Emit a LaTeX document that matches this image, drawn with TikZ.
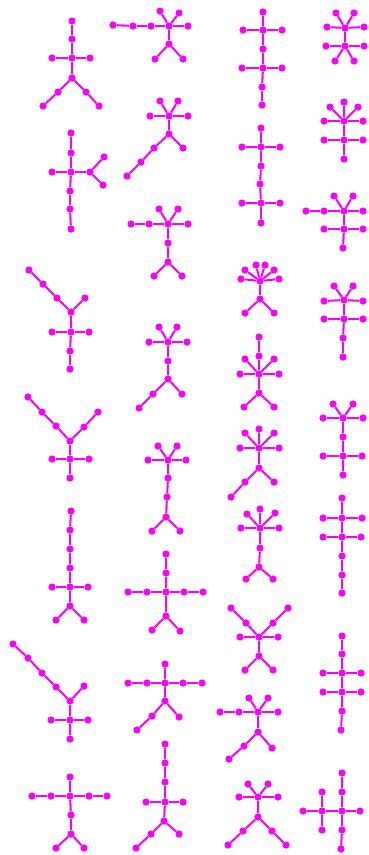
\documentclass[tikz,border=0pt]{standalone}
\definecolor{arbre}{RGB}{250,0,250}
\begin{document}
\begin{tikzpicture}[x=1pt,y=-1pt,
	sommet/.style={circle,fill=arbre,inner sep=0pt,minimum size=7.2pt},
	arete/.style={draw=arbre,line width=2pt}]
	\useasboundingbox (0,0) rectangle (369,855);
	
	% colonne 1
	\foreach \nom/\cx/\cy in {a1/72/21,a2/72/39,a3/72/58,a4/52/58,a5/90/58,a6/72/78,a7/58/92,a8/43/106,a9/86/92,a10/99/106}
		\node[sommet] (\nom) at (\cx,\cy) {};
	\foreach \u/\v in {a1/a2,a2/a3,a3/a4,a3/a5,a3/a6,a6/a7,a7/a8,a6/a9,a9/a10}
		\draw[arete] (\u)--(\v);
	
	\foreach \nom/\cx/\cy in {c1/71/133,c2/71/153,c3/71/172,c4/52/172,c5/90/172,c6/104/157,c7/103/185,c8/70/191,c9/70/209,c10/71/229}
		\node[sommet] (\nom) at (\cx,\cy) {};
	\foreach \u/\v in {c1/c2,c2/c3,c3/c4,c3/c5,c5/c6,c5/c7,c3/c8,c8/c9,c9/c10}
		\draw[arete] (\u)--(\v);
	
	\foreach \nom/\cx/\cy in {k1/29/270,k2/43/284,k3/57/298,k4/71/312,k5/85/298,k6/71/332,k7/52/332,k8/89/332,k9/70/351,k10/70/369}
		\node[sommet] (\nom) at (\cx,\cy) {};
	\foreach \u/\v in {k1/k2,k2/k3,k3/k4,k4/k5,k4/k6,k6/k7,k6/k8,k6/k9,k9/k10}
		\draw[arete] (\u)--(\v);
	
	\foreach \nom/\cx/\cy in {m1/28/397,m2/42/412,m3/56/426,m4/70/441,m5/84/427,m6/98/412,m7/70/459,m8/52/459,m9/89/459,m10/70/478}
		\node[sommet] (\nom) at (\cx,\cy) {};
	\foreach \u/\v in {m1/m2,m2/m3,m3/m4,m4/m5,m5/m6,m4/m7,m7/m8,m7/m9,m7/m10}
		\draw[arete] (\u)--(\v);
	
	\foreach \nom/\cx/\cy in {t1/71/511,t2/70/530,t3/70/549,t4/70/568,t5/70/587,t6/52/587,t7/88/587,t8/70/606,t9/56/620,t10/84/620}
		\node[sommet] (\nom) at (\cx,\cy) {};
	\foreach \u/\v in {t1/t2,t2/t3,t3/t4,t4/t5,t5/t6,t5/t7,t5/t8,t8/t9,t8/t10}
		\draw[arete] (\u)--(\v);
	
	\foreach \nom/\cx/\cy in {z1/13/644,z2/28/658,z3/42/673,z4/56/687,z5/70/701,z6/84/686,z7/70/720,z8/51/720,z9/88/720,z10/70/739}
		\node[sommet] (\nom) at (\cx,\cy) {};
	\foreach \u/\v in {z1/z2,z2/z3,z3/z4,z4/z5,z5/z6,z5/z7,z7/z8,z7/z9,z7/z10}
		\draw[arete] (\u)--(\v);
	
	\foreach \nom/\cx/\cy in {ac1/70/777,ac2/70/796,ac3/32/796,ac4/51/796,ac5/89/796,ac6/107/796,ac7/71/815,ac8/71/834,ac9/56/848,ac10/84/848}
		\node[sommet] (\nom) at (\cx,\cy) {};
	\foreach \u/\v in {ac1/ac2,ac3/ac4,ac4/ac2,ac2/ac5,ac5/ac6,ac2/ac7,ac7/ac8,ac8/ac9,ac8/ac10}
		\draw[arete] (\u)--(\v);
	
	% colonne 2
	\foreach \nom/\cx/\cy in {b1/113/25,b2/133/26,b3/151/26,b4/169/26,b5/188/26,b6/160/11,b7/179/13,b8/169/44,b9/155/59,b10/183/59}
		\node[sommet] (\nom) at (\cx,\cy) {};
	\foreach \u/\v in {b1/b2,b2/b3,b3/b4,b4/b5,b4/b6,b4/b7,b4/b8,b8/b9,b8/b10}
		\draw[arete] (\u)--(\v);
	
	\foreach \nom/\cx/\cy in {d1/160/101,d2/178/101,d3/150/116,d4/169/116,d5/188/116,d6/169/134,d7/183/148,d8/154/148,d9/141/162,d10/127/176}
		\node[sommet] (\nom) at (\cx,\cy) {};
	\foreach \u/\v in {d4/d1,d4/d2,d4/d3,d4/d5,d4/d6,d6/d7,d6/d8,d8/d9,d9/d10}
		\draw[arete] (\u)--(\v);
	
	\foreach \nom/\cx/\cy in {e1/159/209,e2/178/209,e3/131/224,e4/149/224,e5/168/224,e6/188/224,e7/168/243,e8/168/262,e9/154/276,e10/182/276}
		\node[sommet] (\nom) at (\cx,\cy) {};
	\foreach \u/\v in {e5/e1,e5/e2,e3/e4,e4/e5,e5/e6,e5/e7,e7/e8,e8/e9,e8/e10}
		\draw[arete] (\u)--(\v);
	
	\foreach \nom/\cx/\cy in {l1/159/327,l2/177/327,l3/149/342,l4/168/342,l5/187/342,l6/168/361,l7/168/379,l8/182/394,l9/153/394,l10/139/408}
		\node[sommet] (\nom) at (\cx,\cy) {};
	\foreach \u/\v in {l4/l1,l4/l2,l4/l3,l4/l5,l4/l6,l6/l7,l7/l8,l7/l9,l9/l10}
		\draw[arete] (\u)--(\v);
	
	\foreach \nom/\cx/\cy in {n1/158/446,n2/177/446,n3/148/460,n4/168/460,n5/186/460,n6/168/478,n7/167/497,n8/166/517,n9/152/531,n10/180/531}
		\node[sommet] (\nom) at (\cx,\cy) {};
	\foreach \u/\v in {n4/n1,n4/n2,n4/n3,n4/n5,n4/n6,n6/n7,n7/n8,n8/n9,n8/n10}
		\draw[arete] (\u)--(\v);
	
	\foreach \nom/\cx/\cy in {u1/166/554,u2/166/573,u3/166/592,u4/128/592,u5/147/592,u6/184/592,u7/203/592,u8/166/616,u9/152/630,u10/180/631}
		\node[sommet] (\nom) at (\cx,\cy) {};
	\foreach \u/\v in {u1/u2,u2/u3,u4/u5,u5/u3,u3/u6,u6/u7,u3/u8,u8/u9,u8/u10}
		\draw[arete] (\u)--(\v);
	
	\foreach \nom/\cx/\cy in {aa1/165/664,aa2/165/683,aa3/128/683,aa4/147/683,aa5/183/683,aa6/202/683,aa7/165/701,aa8/179/717,aa9/152/716,aa10/137/730}
		\node[sommet] (\nom) at (\cx,\cy) {};
	\foreach \u/\v in {aa1/aa2,aa3/aa4,aa4/aa2,aa2/aa5,aa5/aa6,aa2/aa7,aa7/aa8,aa7/aa9,aa9/aa10}
		\draw[arete] (\u)--(\v);
	
	\foreach \nom/\cx/\cy in {ad1/165/744,ad2/165/763,ad3/165/782,ad4/165/802,ad5/146/802,ad6/183/802,ad7/164/821,ad8/179/834,ad9/151/834,ad10/136/848}
		\node[sommet] (\nom) at (\cx,\cy) {};
	\foreach \u/\v in {ad1/ad2,ad2/ad3,ad3/ad4,ad4/ad5,ad4/ad6,ad4/ad7,ad7/ad8,ad7/ad9,ad9/ad10}
		\draw[arete] (\u)--(\v);
	
	% colonne 3
	\foreach \nom/\cx/\cy in {f1/263/12,f2/263/30,f3/243/30,f4/282/30,f5/263/49,f6/263/68,f7/242/68,f8/282/68,f9/262/87,f10/262/105}
		\node[sommet] (\nom) at (\cx,\cy) {};
	\foreach \u/\v in {f1/f2,f2/f3,f2/f4,f2/f5,f5/f6,f6/f7,f6/f8,f6/f9,f9/f10}
		\draw[arete] (\u)--(\v);
	
	\foreach \nom/\cx/\cy in {h1/261/128,h2/261/147,h3/242/147,h4/280/147,h5/261/166,h6/260/184,h7/261/203,h8/242/203,h9/280/203,h10/261/223}
		\node[sommet] (\nom) at (\cx,\cy) {};
	\foreach \u/\v in {h1/h2,h2/h3,h2/h4,h2/h5,h5/h6,h6/h7,h7/h8,h7/h9,h7/h10}
		\draw[arete] (\u)--(\v);
	
	\foreach \nom/\cx/\cy in {o1/260/281,o2/241/279,o3/245/270,o4/256/265,o5/265/265,o6/274/270,o7/279/279,o8/260/299,o9/245/313,o10/274/313}
		\node[sommet] (\nom) at (\cx,\cy) {};
	\foreach \u/\v in {o1/o2,o1/o3,o1/o4,o1/o5,o1/o6,o1/o7,o1/o8,o8/o9,o8/o10}
		\draw[arete] (\u)--(\v);
	
	\foreach \nom/\cx/\cy in {q1/259/337,q2/259/356,q3/259/374,q4/240/374,q5/279/374,q6/245/359,q7/274/359,q8/259/393,q9/244/407,q10/274/407}
		\node[sommet] (\nom) at (\cx,\cy) {};
	\foreach \u/\v in {q1/q2,q2/q3,q3/q4,q3/q5,q3/q6,q3/q7,q3/q8,q8/q9,q8/q10}
		\draw[arete] (\u)--(\v);
	
	\foreach \nom/\cx/\cy in {r1/259/429,r2/245/433,r3/274/433,r4/240/448,r5/259/448,r6/279/448,r7/259/468,r8/274/482,r9/245/482,r10/231/497}
		\node[sommet] (\nom) at (\cx,\cy) {};
	\foreach \u/\v in {r5/r1,r5/r2,r5/r3,r5/r4,r5/r6,r5/r7,r7/r8,r7/r9,r9/r10}
		\draw[arete] (\u)--(\v);
	
	\foreach \nom/\cx/\cy in {v1/247/514,v2/260/509,v3/275/513,v4/241/528,v5/260/528,v6/279/528,v7/260/548,v8/259/567,v9/246/579,v10/273/579}
		\node[sommet] (\nom) at (\cx,\cy) {};
	\foreach \u/\v in {v5/v1,v5/v2,v5/v3,v5/v4,v5/v6,v5/v7,v7/v8,v8/v9,v8/v10}
		\draw[arete] (\u)--(\v);
	
	\foreach \nom/\cx/\cy in {x1/231/608,x2/246/623,x3/288/608,x4/273/623,x5/259/637,x6/240/637,x7/278/637,x8/259/656,x9/245/670,x10/273/670}
		\node[sommet] (\nom) at (\cx,\cy) {};
	\foreach \u/\v in {x1/x2,x2/x5,x3/x4,x4/x5,x5/x6,x5/x7,x5/x8,x8/x9,x8/x10}
		\draw[arete] (\u)--(\v);
	
	\foreach \nom/\cx/\cy in {ab1/249/698,ab2/268/698,ab3/220/712,ab4/239/712,ab5/258/712,ab6/278/712,ab7/258/732,ab8/272/748,ab9/244/746,ab10/229/759}
		\node[sommet] (\nom) at (\cx,\cy) {};
	\foreach \u/\v in {ab5/ab1,ab5/ab2,ab3/ab4,ab4/ab5,ab5/ab6,ab5/ab7,ab7/ab8,ab7/ab9,ab9/ab10}
		\draw[arete] (\u)--(\v);
	
	\foreach \nom/\cx/\cy in {ae1/248/784,ae2/268/784,ae3/239/797,ae4/258/797,ae5/278/797,ae6/258/817,ae7/272/831,ae8/286/845,ae9/243/831,ae10/228/845}
		\node[sommet] (\nom) at (\cx,\cy) {};
	\foreach \u/\v in {ae4/ae1,ae4/ae2,ae4/ae3,ae4/ae5,ae4/ae6,ae6/ae7,ae7/ae8,ae6/ae9,ae9/ae10}
		\draw[arete] (\u)--(\v);
	
	% colonne 4
	\foreach \nom/\cx/\cy in {g1/336/13,g2/354/13,g3/327/27,g4/345/28,g5/364/27,g6/345/46,g7/326/46,g8/364/46,g9/335/61,g10/354/61}
		\node[sommet] (\nom) at (\cx,\cy) {};
	\foreach \u/\v in {g4/g1,g4/g2,g4/g3,g4/g5,g4/g6,g6/g7,g6/g8,g6/g9,g6/g10}
		\draw[arete] (\u)--(\v);
	
	\foreach \nom/\cx/\cy in {i1/330/107,i2/344/102,i3/358/107,i4/324/121,i5/344/121,i6/363/121,i7/344/140,i8/324/140,i9/363/140,i10/344/159}
		\node[sommet] (\nom) at (\cx,\cy) {};
	\foreach \u/\v in {i5/i1,i5/i2,i5/i3,i5/i4,i5/i6,i5/i7,i7/i8,i7/i9,i7/i10}
		\draw[arete] (\u)--(\v);
	
	\foreach \nom/\cx/\cy in {j1/334/196,j2/353/196,j3/306/211,j4/324/211,j5/344/211,j6/363/211,j7/344/229,j8/324/229,j9/363/229,j10/343/248}
		\node[sommet] (\nom) at (\cx,\cy) {};
	\foreach \u/\v in {j5/j1,j5/j2,j3/j4,j4/j5,j5/j6,j5/j7,j7/j8,j7/j9,j7/j10}
		\draw[arete] (\u)--(\v);
	
	\foreach \nom/\cx/\cy in {p1/334/286,p2/353/286,p3/324/301,p4/344/300,p5/363/301,p6/344/319,p7/324/319,p8/363/319,p9/343/338,p10/343/357}
		\node[sommet] (\nom) at (\cx,\cy) {};
	\foreach \u/\v in {p4/p1,p4/p2,p4/p3,p4/p5,p4/p6,p6/p7,p6/p8,p6/p9,p9/p10}
		\draw[arete] (\u)--(\v);
	
	\foreach \nom/\cx/\cy in {s1/333/404,s2/353/404,s3/323/418,s4/343/418,s5/363/418,s6/343/437,s7/343/456,s8/323/456,s9/362/456,s10/343/475}
		\node[sommet] (\nom) at (\cx,\cy) {};
	\foreach \u/\v in {s4/s1,s4/s2,s4/s3,s4/s5,s4/s6,s6/s7,s7/s8,s7/s9,s7/s10}
		\draw[arete] (\u)--(\v);
	
	\foreach \nom/\cx/\cy in {w1/342/498,w2/342/518,w3/323/518,w4/362/518,w5/342/537,w6/323/537,w7/361/537,w8/342/556,w9/342/575,w10/342/593}
		\node[sommet] (\nom) at (\cx,\cy) {};
	\foreach \u/\v in {w1/w2,w2/w3,w2/w4,w2/w5,w5/w6,w5/w7,w5/w8,w8/w9,w9/w10}
		\draw[arete] (\u)--(\v);
	
	\foreach \nom/\cx/\cy in {y1/342/636,y2/342/654,y3/342/673,y4/323/673,y5/361/673,y6/342/692,y7/323/692,y8/361/692,y9/342/711,y10/341/730}
		\node[sommet] (\nom) at (\cx,\cy) {};
	\foreach \u/\v in {y1/y2,y2/y3,y3/y4,y3/y5,y3/y6,y6/y7,y6/y8,y6/y9,y9/y10}
		\draw[arete] (\u)--(\v);
	
	\foreach \nom/\cx/\cy in {af1/342/773,af2/342/792,af3/342/811,af4/360/811,af5/342/830,af6/341/849,af7/322/811,af8/303/811,af9/322/792,af10/322/830}
		\node[sommet] (\nom) at (\cx,\cy) {};
	\foreach \u/\v in {af1/af2,af2/af3,af3/af4,af3/af5,af5/af6,af3/af7,af7/af8,af7/af9,af7/af10}
		\draw[arete] (\u)--(\v);
	
\end{tikzpicture}
\end{document}
